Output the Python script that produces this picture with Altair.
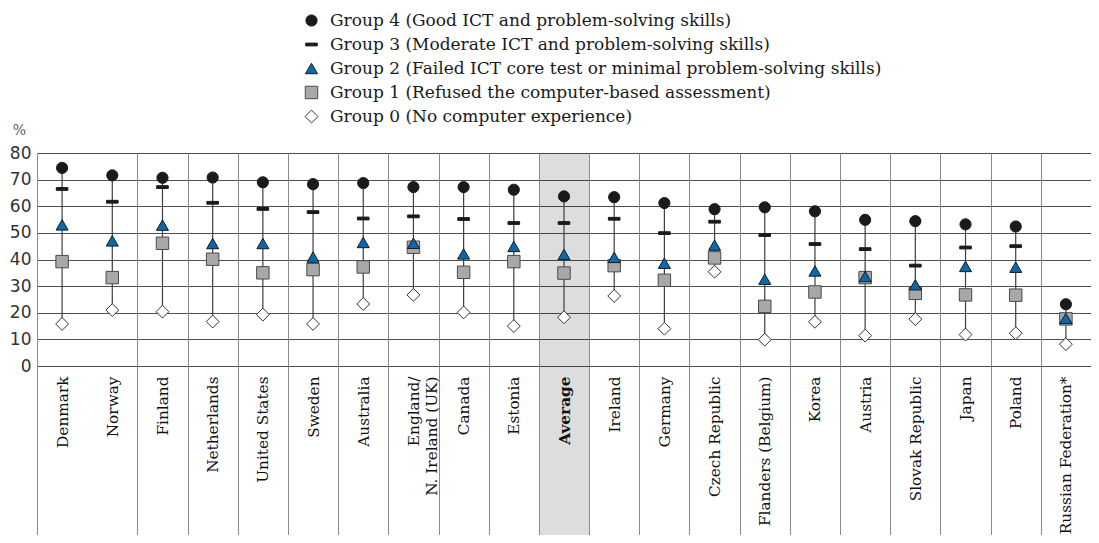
import altair as alt
import pandas as pd

countries = ["Denmark", "Norway", "Finland", "Netherlands", "United States", "Sweden",
             "Australia", "England/ N. Ireland (UK)", "Canada", "Estonia", "Average",
             "Ireland", "Germany", "Czech Republic", "Flanders (Belgium)", "Korea",
             "Austria", "Slovak Republic", "Japan", "Poland", "Russian Federation*"]
highlight = "Average"

group_names = ["Group 4 (Good ICT and problem-solving skills)",
               "Group 3 (Moderate ICT and problem-solving skills)",
               "Group 2 (Failed ICT core test or minimal problem-solving skills)",
               "Group 1 (Refused the computer-based assessment)",
               "Group 0 (No computer experience)"]

g4 = [74.4, 71.6, 70.7, 70.8, 69.0, 68.3, 68.7, 67.2, 67.2, 66.2, 63.7, 63.4, 61.2, 58.9, 59.6, 58.1, 54.9, 54.4, 53.2, 52.4, 23.2]
g3 = [66.5, 61.7, 67.2, 61.3, 59.0, 57.8, 55.4, 56.2, 55.2, 53.7, 53.7, 55.3, 49.9, 54.2, 49.2, 45.8, 43.9, 37.7, 44.5, 45.0, None]
g2 = [53.0, 47.0, 52.9, 46.0, 46.0, 40.9, 46.4, 46.1, 42.1, 44.9, 41.9, 40.8, 38.6, 45.4, 32.6, 35.7, 33.6, 30.5, 37.4, 37.1, 17.9]
g1 = [39.2, 33.2, 46.1, 40.1, 35.0, 36.2, 37.2, 44.6, 35.2, 39.2, 34.9, 37.7, 32.2, 40.6, 22.4, 27.8, 33.2, 27.3, 26.7, 26.6, 17.7]
g0 = [15.8, 21.0, 20.4, 16.7, 19.3, 15.8, 23.3, 26.7, 20.1, 15.0, 18.3, 26.3, 14.0, 35.4, 9.9, 16.6, 11.4, 17.6, 11.8, 12.3, 8.2]

y_ticks = [0, 10, 20, 30, 40, 50, 60, 70, 80]

shapes = ["circle", "M-1,-0.24L1,-0.24L1,0.24L-1,0.24Z", "triangle-up", "square", "diamond"]
fills = ["#1a1a1a", "#1a1a1a", "#0a69ac", "#a7a8ab", "#ffffff"]
strokes = ["#1a1a1a", "#1a1a1a", "#1a1a1a", "#4a4a4a", "#333333"]
sizes = [125, 165, 150, 130, 160]

rows = []
for name, vals in [(group_names[4], g0), (group_names[3], g1), (group_names[2], g2),
                   (group_names[1], g3), (group_names[0], g4)]:
    for c, v in zip(countries, vals):
        if v is not None:
            rows.append({"country": c, "group": name, "value": v})
df = pd.DataFrame(rows)

hide_first = {"condition": {"test": "datum.value === 'Denmark'", "value": "transparent"}, "value": "#8a8a8a"}
bold_avg = {"condition": {"test": "datum.value === 'Average'", "value": "bold"}, "value": "normal"}

x_axis = alt.Axis(
    title=None, orient="bottom", domain=False, grid=True, gridColor=hide_first, gridWidth=1,
    ticks=True, tickBand="extent", tickSize=170, tickColor=hide_first, tickWidth=1,
    labelAngle=270, labelAlign="right", labelBaseline="middle", labelPadding=-160,
    labelFont="DejaVu Serif", labelFontSize=15.3, labelColor="#111111",
    labelFontWeight=bold_avg, labelLimit=400, labelOverlap=False, labelBound=False,
    labelFlush=False, labelLineHeight=18,
    labelExpr="indexof(datum.label, '/ ') > 0 ? [slice(datum.label, 0, indexof(datum.label, '/ ') + 1), slice(datum.label, indexof(datum.label, '/ ') + 2)] : datum.label",
    zindex=1,
)
x_enc = alt.X("country:N", sort=countries,
              scale=alt.Scale(type="band", domain=countries, paddingInner=0, paddingOuter=0),
              axis=x_axis)

y_axis = alt.Axis(
    title="%", titleAngle=0, titleAlign="center", titleBaseline="middle", titleX=-18, titleY=-23,
    titleFont="DejaVu Serif", titleFontSize=14, titleFontWeight="normal", titleColor="#555555",
    values=y_ticks, grid=True, gridColor="#4f4f4f", gridWidth=1, ticks=False, domain=False,
    labelPadding=6, labelFont="DejaVu Sans", labelFontSize=17, labelColor="#333333",
)
y_scale = alt.Scale(domain=[0, 80], nice=False, zero=True)

legend = alt.Legend(title=None, orient="none", legendX=266, legendY=-141,
                    labelFont="DejaVu Serif", labelFontSize=17, labelColor="#1a1a1a",
                    rowPadding=6, labelOffset=10, labelLimit=800, symbolStrokeWidth=1,
                    padding=0)

band = alt.Chart(pd.DataFrame({"country": [highlight]})).mark_rect(
    fill="#000000", fillOpacity=0.135
).encode(x=x_enc, y=alt.value(0), y2=alt.value(390))

connectors = alt.Chart(df).mark_rule(color="#3d3d3d", strokeWidth=1.2).encode(
    x=x_enc,
    y=alt.Y("min(value):Q", scale=y_scale, axis=y_axis),
    y2="max(value):Q",
)

points = alt.Chart(df).mark_point(filled=True, opacity=1, strokeWidth=1).encode(
    x=x_enc,
    y=alt.Y("value:Q", scale=y_scale, axis=y_axis),
    shape=alt.Shape("group:N", scale=alt.Scale(domain=group_names, range=shapes), legend=legend),
    fill=alt.Fill("group:N", scale=alt.Scale(domain=group_names, range=fills), legend=legend),
    stroke=alt.Stroke("group:N", scale=alt.Scale(domain=group_names, range=strokes), legend=legend),
    size=alt.Size("group:N", scale=alt.Scale(domain=group_names, range=sizes), legend=legend),
)

chart = alt.layer(band, connectors, points).properties(
    width=1054, height=213,
    autosize=alt.AutoSizeParams(type="none"),
    padding={"left": 29, "top": 145, "right": 0, "bottom": 169},
).configure_view(stroke=None)

chart.save("out.html", embed_options={"renderer": "svg", "actions": False})
